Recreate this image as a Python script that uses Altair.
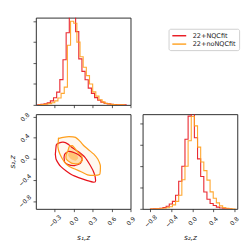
import altair as alt
import pandas as pd

SERIES = ["22+NQCfit", "22+noNQCfit"]
COLORS = ["#e8141c", "#ff9f1c"]

# ---- s1z marginal histograms (density, step outline) ----
s1z_red_start = -0.57
s1z_red_width = 0.05
s1z_red_heights = [0.01, 0.03, 0.05, 0.10, 0.19, 0.34, 0.61, 1.21, 2.16, 3.45,
                   5.2, 5.0, 3.5, 2.2, 1.6, 1.2, 0.8, 0.55, 0.35, 0.22,
                   0.13, 0.08, 0.05, 0.03, 0.02, 0.01, 0.01, 0.005]
s1z_orange_start = -0.55
s1z_orange_width = 0.05
s1z_orange_heights = [0.01, 0.02, 0.04, 0.06, 0.10, 0.19, 0.33, 0.55, 0.85, 2.85,
                      4.0, 3.9, 3.0, 2.3, 1.8, 1.4, 1.0, 0.62, 0.42, 0.24,
                      0.13, 0.07, 0.04, 0.02, 0.01, 0.01, 0.005]

# ---- s2z marginal histograms ----
s2z_red_start = -0.80
s2z_red_width = 0.06
s2z_red_heights = [0.005, 0.01, 0.02, 0.03, 0.06, 0.12, 0.23, 0.35, 0.64, 1.3,
                   2.0, 3.27, 4.36, 5.0, 3.34, 2.35, 1.52, 0.79, 0.45, 0.25,
                   0.16, 0.08, 0.04, 0.02, 0.01, 0.005]
s2z_orange_start = -0.80
s2z_orange_width = 0.06
s2z_orange_heights = [0.003, 0.005, 0.01, 0.02, 0.03, 0.05, 0.10, 0.19, 0.35, 0.64,
                      1.37, 2.0, 3.2, 4.34, 3.9, 2.9, 2.2, 1.8, 1.35, 0.8,
                      0.5, 0.28, 0.14, 0.06, 0.03, 0.01, 0.005]

# ---- 2D credible contours (s1z, s2z) ----
red_outer_x = [-0.291, -0.276, -0.237, -0.168, -0.09, -0.021, 0.072, 0.175, 0.263, 0.322,
               0.347, 0.322, 0.204, 0.076, -0.031, -0.119, -0.207, -0.241, -0.281]
red_outer_y = [0.087, 0.264, 0.299, 0.317, 0.281, 0.21, 0.14, 0.034, -0.126, -0.267,
               -0.409, -0.444, -0.409, -0.356, -0.303, -0.232, -0.143, -0.09, -0.002]
red_inner_x = [-0.153, -0.144, -0.09, -0.001, 0.087, 0.135, 0.101, 0.013, -0.09, -0.144]
red_inner_y = [0.028, 0.087, 0.14, 0.122, 0.069, -0.002, -0.09, -0.126, -0.108, -0.06]
orange_outer_x = [-0.241, -0.168, -0.075, 0.028, 0.101, 0.15, 0.234, 0.322, 0.381, 0.421,
                  0.421, 0.41, 0.322, 0.219, 0.126, 0.028, -0.071, -0.149, -0.218, -0.251]
orange_outer_y = [0.388, 0.41, 0.423, 0.41, 0.334, 0.264, 0.175, 0.087, -0.002, -0.12,
                  -0.232, -0.297, -0.315, -0.303, -0.25, -0.197, -0.143, -0.055, 0.087, 0.228]
orange_inner_x = [-0.094, -0.071, -0.021, 0.013, 0.053, 0.126, 0.135, 0.076, -0.001, -0.046,
                  -0.119, -0.119]
orange_inner_y = [0.145, 0.234, 0.251, 0.21, 0.145, 0.056, -0.032, -0.09, -0.09, -0.073,
                  -0.002, 0.087]
orange_core_x = [-0.075, -0.016, 0.043, 0.072, 0.028, -0.046, -0.09]
orange_core_y = [0.122, 0.157, 0.104, 0.016, -0.037, -0.002, 0.069]

S1_TICKS = [-0.3, 0.0, 0.3, 0.6, 0.9]
S2_TICKS = [-0.8, -0.4, 0.0, 0.4, 0.8]
HIST_TICKS = [0, 1, 2, 3, 4]


def hist_rows(start, width, heights, name):
    rows = [{"x": start, "h": 0.0, "i": 0, "series": name}]
    for k, h in enumerate(heights):
        rows.append({"x": start + k * width, "h": h, "i": k + 1, "series": name})
    rows.append({"x": start + len(heights) * width, "h": 0.0,
                 "i": len(heights) + 1, "series": name})
    return rows


def poly_rows(xs, ys, name, series):
    rows = [{"x": x, "y": y, "i": k, "contour": name, "series": series}
            for k, (x, y) in enumerate(zip(xs, ys))]
    rows.append({"x": xs[0], "y": ys[0], "i": len(xs), "contour": name, "series": series})
    return rows


df_s1 = pd.DataFrame(hist_rows(s1z_red_start, s1z_red_width, s1z_red_heights, SERIES[0])
                     + hist_rows(s1z_orange_start, s1z_orange_width, s1z_orange_heights, SERIES[1]))
df_s2 = pd.DataFrame(hist_rows(s2z_red_start, s2z_red_width, s2z_red_heights, SERIES[0])
                     + hist_rows(s2z_orange_start, s2z_orange_width, s2z_orange_heights, SERIES[1]))
df_c = pd.DataFrame(poly_rows(red_outer_x, red_outer_y, "r_out", SERIES[0])
                    + poly_rows(red_inner_x, red_inner_y, "r_in", SERIES[0])
                    + poly_rows(orange_outer_x, orange_outer_y, "o_out", SERIES[1])
                    + poly_rows(orange_inner_x, orange_inner_y, "o_in", SERIES[1]))
df_core = pd.DataFrame(poly_rows(orange_core_x, orange_core_y, "o_core", SERIES[1]))

cscale = alt.Scale(domain=SERIES, range=COLORS)
s1_scale = alt.Scale(domain=[-0.6, 0.9], nice=False, zero=False)
s2_scale = alt.Scale(domain=[-0.95, 0.86], nice=False, zero=False)

tick_only = dict(labels=False, title=None, minExtent=0, tickSize=3)

# top-left: s1z histogram
tl = alt.Chart(df_s1).mark_line(interpolate="step-after", clip=True, strokeWidth=1.2, opacity=0.9).encode(
    x=alt.X("x:Q", scale=s1_scale, axis=alt.Axis(values=S1_TICKS, **tick_only)),
    y=alt.Y("h:Q", scale=alt.Scale(domain=[0, 4.17], nice=False),
            axis=alt.Axis(values=HIST_TICKS, **tick_only)),
    color=alt.Color("series:N", scale=cscale, legend=None),
    order="i:Q",
).properties(width=102, height=94)

# top-right: legend cell
tr = alt.Chart(pd.DataFrame({"series": SERIES})).mark_rule(opacity=0).encode(
    x=alt.value(0), y=alt.value(0),
    color=alt.Color("series:N", scale=cscale, title=None,
                    legend=alt.Legend(orient="none", legendX=28, legendY=12,
                                      symbolType="M-2,0H2", symbolSize=56,
                                      symbolStrokeWidth=1.5, symbolOpacity=1,
                                      symbolOffset=4, labelOffset=10,
                                      labelFont="DejaVu Sans", labelFontSize=7,
                                      labelColor="#222",
                                      padding=3, rowPadding=1,
                                      strokeColor="#cccccc", fillColor="white",
                                      cornerRadius=2)),
).properties(width=102, height=94, view=alt.ViewBackground(strokeOpacity=0))

# bottom-left: 2D contours
x_bl = alt.X("x:Q", scale=s1_scale, title="s₁,z",
             axis=alt.Axis(values=S1_TICKS, format=".1f", labelAngle=315, labelAlign="center",
                           labelBaseline="middle", labelPadding=10, tickSize=3, titlePadding=6))
y_bl = alt.Y("y:Q", scale=alt.Scale(domain=[-0.95, 0.85], nice=False, zero=False), title="s₂,z",
             axis=alt.Axis(values=S2_TICKS, format=".1f", labelAngle=315, labelAlign="center",
                           labelBaseline="middle", labelPadding=9, tickSize=3, titlePadding=1,
                           minExtent=0))

fill_out = alt.Chart(df_c).transform_filter(alt.datum.contour == "o_out").mark_line(
    fill=COLORS[1], fillOpacity=0.07, strokeOpacity=0,
    interpolate="cardinal-closed", tension=0.5).encode(x=x_bl, y=y_bl, order="i:Q")
fill_in = alt.Chart(df_c).transform_filter(alt.datum.contour == "o_in").mark_line(
    fill=COLORS[1], fillOpacity=0.28, strokeOpacity=0,
    interpolate="cardinal-closed", tension=0.5).encode(x=x_bl, y=y_bl, order="i:Q")
fill_core = alt.Chart(df_core).mark_line(
    fill=COLORS[1], fillOpacity=0.4, strokeOpacity=0,
    interpolate="cardinal-closed", tension=0.5).encode(x=x_bl, y=y_bl, order="i:Q")
lines = alt.Chart(df_c).mark_line(strokeWidth=1.3, interpolate="cardinal-closed", tension=0.5).encode(
    x=x_bl, y=y_bl, order="i:Q", detail="contour:N",
    color=alt.Color("series:N", scale=cscale, legend=None))

bl = alt.layer(fill_out, fill_in, fill_core, lines).properties(width=102, height=102)

# bottom-right: s2z histogram
br = alt.Chart(df_s2).mark_line(interpolate="step-after", clip=True, strokeWidth=1.2, opacity=0.9).encode(
    x=alt.X("x:Q", scale=s2_scale, title="s₂,z",
            axis=alt.Axis(values=S2_TICKS, format=".1f", labelAngle=315, labelAlign="center",
                          labelBaseline="middle", labelPadding=10, tickSize=3, titlePadding=6)),
    y=alt.Y("h:Q", scale=alt.Scale(domain=[0, 4.45], nice=False),
            axis=alt.Axis(values=HIST_TICKS, **tick_only)),
    color=alt.Color("series:N", scale=cscale, legend=None),
    order="i:Q",
).properties(width=102, height=102)

chart = alt.concat(tl, tr, bl, br, columns=2, spacing=2).properties(
    align="each", padding=0
).resolve_scale(color="independent").resolve_legend(color="independent").configure_axis(
    grid=False, domain=False, labelFont="DejaVu Sans", labelFontSize=6.5, labelColor="#222",
    tickColor="#222", tickWidth=0.8, titleFont="DejaVu Sans", titleFontSize=8,
    titleFontStyle="italic", titleFontWeight="normal", titleColor="#222"
).configure_view(stroke="#222", strokeWidth=1)

chart.save("out.html", embed_options={"renderer": "svg", "actions": False})
